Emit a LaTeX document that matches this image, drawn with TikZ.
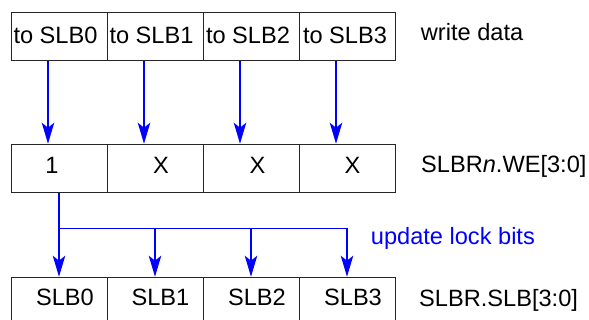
\documentclass[tikz,border=0pt]{standalone}
\usepackage{fontspec}
\setmainfont{Liberation Sans}
\usetikzlibrary{arrows.meta}
\definecolor{wireblue}{RGB}{0,0,255}
\begin{document}
\begin{tikzpicture}[x=1pt,y=-1pt,
  font=\fontsize{23.6}{28}\selectfont,
  box/.style={draw=black!85,line width=1pt,minimum width=96pt,minimum height=48pt,inner sep=0pt,anchor=north west},
  txt/.style={inner sep=0pt,anchor=base},
  lbl/.style={inner sep=0pt,anchor=base west},
  arr/.style={draw=wireblue,fill=wireblue,line width=1.1pt,-{Stealth[length=21pt,width=12.5pt,inset=5pt]}},
  wire/.style={draw=wireblue,line width=1.1pt}]
\useasboundingbox (0,0) rectangle (589,320);
\clip (0,0) rectangle (589,320);
% top row
\node[box] (t0) at (11,12) {};
\node[box] (t1) at (107,12) {};
\node[box] (t2) at (203,12) {};
\node[box] (t3) at (299,12) {};
\node[txt] (tt0) at (55.5,43.3) {to SLB0};
\node[txt] (tt1) at (151.5,43.3) {to SLB1};
\node[txt] (tt2) at (248,43.3) {to SLB2};
\node[txt] (tt3) at (345,43.3) {to SLB3};
\node[lbl] (wd) at (420.7,40.7) {write data};
% middle row
\node[box] (m0) at (11,143.7) {};
\node[box] (m1) at (107,143.7) {};
\node[box] (m2) at (203,143.7) {};
\node[box] (m3) at (299,143.7) {};
\node[txt] (mt0) at (52,173.3) {1};
\node[txt] (mt1) at (161,173.3) {X};
\node[txt] (mt2) at (257.5,173.3) {X};
\node[txt] (mt3) at (352.5,173.3) {X};
\node[lbl] (we) at (421,173) {SLBR\textit{n}.WE[3:0]};
% bottom row
\node[box] (b0) at (11,276.7) {};
\node[box] (b1) at (107,276.7) {};
\node[box] (b2) at (203,276.7) {};
\node[box] (b3) at (299,276.7) {};
\node[txt] (bt0) at (65,305.7) {SLB0};
\node[txt] (bt1) at (160.5,305.7) {SLB1};
\node[txt] (bt2) at (257,305.7) {SLB2};
\node[txt] (bt3) at (353,305.7) {SLB3};
\node[lbl] (slb) at (419,306.7) {SLBR.SLB[3:0]};
\node[lbl,text=wireblue] (ulb) at (370.7,245) {update lock bits};
% write data arrows
\coordinate (a0) at ([xshift=-11.5pt]t0.south);
\coordinate (a1) at ([xshift=-11.5pt]t1.south);
\coordinate (a2) at ([xshift=-11.5pt]t2.south);
\coordinate (a3) at ([xshift=-11.5pt]t3.south);
\draw[arr] (a0) -- (a0 |- m0.north);
\draw[arr] (a1) -- (a1 |- m1.north);
\draw[arr] (a2) -- (a2 |- m2.north);
\draw[arr] (a3) -- (a3 |- m3.north);
% lock bit distribution
\coordinate (j) at ([xshift=-0.5pt]m0.south |- 0,228.5);
\draw[wire] ([xshift=-0.5pt]m0.south) -- (j) -- ([xshift=-0.5pt]j -| b3.north);
\draw[arr] ([xshift=-0.5pt]j -| b0.north) -- ([xshift=-0.5pt]b0.north);
\draw[arr] ([xshift=-0.5pt]j -| b1.north) -- ([xshift=-0.5pt]b1.north);
\draw[arr] ([xshift=-0.5pt]j -| b2.north) -- ([xshift=-0.5pt]b2.north);
\draw[arr] ([xshift=-0.5pt]j -| b3.north) -- ([xshift=-0.5pt]b3.north);
\end{tikzpicture}
\end{document}
